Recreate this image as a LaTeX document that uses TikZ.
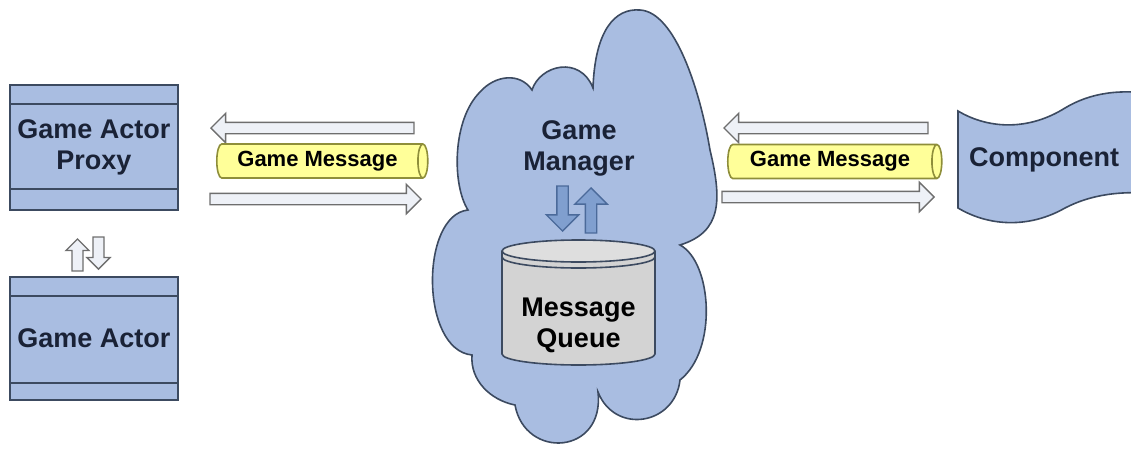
\documentclass[tikz,border=0pt]{standalone}
\usepackage{fontspec}
\setmainfont{Liberation Sans}
\usetikzlibrary{shapes.geometric,shapes.arrows}
\definecolor{boxblue}{HTML}{A9BDE1}
\definecolor{boxline}{HTML}{3C4A60}
\definecolor{textnavy}{HTML}{1A2236}
\definecolor{pipefill}{HTML}{FFFF99}
\definecolor{pipeline}{HTML}{8E8E3A}
\definecolor{hollowfill}{HTML}{EEF1F7}
\definecolor{hollowline}{HTML}{6E6E6E}
\definecolor{bluearrow}{HTML}{809FCF}
\definecolor{bluearrowline}{HTML}{4B6A9A}
\definecolor{queuegray}{HTML}{D3D3D3}
\definecolor{queuetop}{HTML}{DEDEDE}
\newcommand{\lblfont}{\fontsize{13.5}{15.5}\selectfont\bfseries}
\newcommand{\msgfont}{\fontsize{11}{13}\selectfont\bfseries}

\begin{document}
\begin{tikzpicture}[x=0.5pt,y=-0.5pt]
\tikzstyle{every node}+=[inner sep=0pt]
\tikzstyle{lbl}=[text=textnavy, align=center, font=\lblfont]
\tikzstyle{box}=[lbl, draw=boxline, fill=boxblue, line width=0.8pt, minimum width=84pt]
\tikzstyle{pipe}=[cylinder, draw=pipeline, fill=pipefill, line width=0.8pt, aspect=0.3, inner ysep=3.2pt, minimum width=17pt, font=\msgfont]
\tikzstyle{hollow}=[single arrow, draw=hollowline, fill=hollowfill, line width=0.7pt, anchor=tip, inner xsep=0pt, inner ysep=2.5pt]
\tikzstyle{msgarrow}=[hollow, single arrow head extend=4.5pt]
\tikzstyle{swaparrow}=[hollow, inner xsep=2.4pt, inner ysep=0pt, minimum height=16pt, single arrow head extend=3pt]
\tikzstyle{bluearrow}=[single arrow, draw=bluearrowline, fill=bluearrow, line width=0.7pt, anchor=tip, inner xsep=2.5pt, inner ysep=0pt, minimum height=22.5pt, single arrow head extend=5.25pt]
\useasboundingbox (0,0) rectangle (1131,450);
\draw [boxline, fill=boxblue, line width=0.8pt] (468,210) .. controls (452,185) and (452,120) .. (480,92) .. controls (495,75) and (520,72) .. (532,90) .. controls (540,65) and (580,55) .. (593,88) .. controls (595,30) and (615,8) .. (640,10) .. controls (675,12) and (700,90) .. (710,150) .. controls (722,200) and (722,232) .. (680,245) .. controls (712,262) and (718,350) .. (680,380) .. controls (675,425) and (615,435) .. (598,392) .. controls (605,455) and (525,460) .. (515,405) .. controls (490,400) and (470,380) .. (472,355) .. controls (420,350) and (420,215) .. (468,210) -- cycle;
\fill [queuegray] (502,251) -- (502,354) arc [start angle=180, end angle=0, x radius=76.5, y radius=11] -- (655,251) -- cycle;
\draw [boxline, line width=0.8pt] (502,251) -- (502,354) arc [start angle=180, end angle=0, x radius=76.5, y radius=11] -- (655,251);
\draw [boxline, line width=0.8pt, fill=queuetop] (578.5,251) ellipse [x radius=76.5, y radius=11];
\draw [boxline, line width=0.8pt] (502,257) arc [start angle=180, end angle=0, x radius=76.5, y radius=11];
\begin{scope}
\clip (0,0) rectangle (1131,450);
\draw [boxline, fill=boxblue, line width=0.8pt] (958,111) .. controls (990,130) and (1030,130) .. (1065,108) .. controls (1090,93) and (1120,88) .. (1160,95) -- (1160,194) .. controls (1120,190) and (1090,195) .. (1065,208) .. controls (1030,228) and (990,227) .. (958,208) -- cycle;
\end{scope}
\node [box, minimum height=62.5pt] (proxy) at (94,147.5) {Game Actor\\Proxy};
\draw [boxline, line width=0.8pt] ([yshift=-10pt]proxy.north west) -- ([yshift=-10pt]proxy.north east);
\draw [boxline, line width=0.8pt] ([yshift=11pt]proxy.south west) -- ([yshift=11pt]proxy.south east);
\node [box, minimum height=61.5pt] (actor) at (94,338.5) {Game Actor};
\draw [boxline, line width=0.8pt] ([yshift=-10pt]actor.north west) -- ([yshift=-10pt]actor.north east);
\draw [boxline, line width=0.8pt] ([yshift=9pt]actor.south west) -- ([yshift=9pt]actor.south east);
\node [swaparrow, shape border rotate=90] (toproxy) at (77.5,238) {};
\node [swaparrow, shape border rotate=270] (toactor) at (98.5,270) {};
\node [lbl] (mgr) at (579,148) {Game\\Manager};
\node [bluearrow, shape border rotate=270] (enqueue) at (562.5,232) {};
\node [bluearrow, shape border rotate=90] (dequeue) at (591,187) {};
\node [lbl, text=black] (queue) at (578.5,325) {Message\\Queue};
\node [lbl] (comp) at (1044,160) {Component};
\node [msgarrow, minimum height=101.5pt, shape border rotate=180] (inleft) at (210,128) {};
\node [pipe, minimum height=105.5pt] (msgleft) at (317.5,161) {Game Message};
\node [msgarrow, minimum height=105.5pt] (outleft) at (422,199) {};
\node [msgarrow, minimum height=102pt, shape border rotate=180] (inright) at (723,128) {};
\node [pipe, minimum height=107pt] (msgright) at (830,161.5) {Game Message};
\node [msgarrow, minimum height=106pt] (outright) at (935,197) {};
\end{tikzpicture}
\end{document}
